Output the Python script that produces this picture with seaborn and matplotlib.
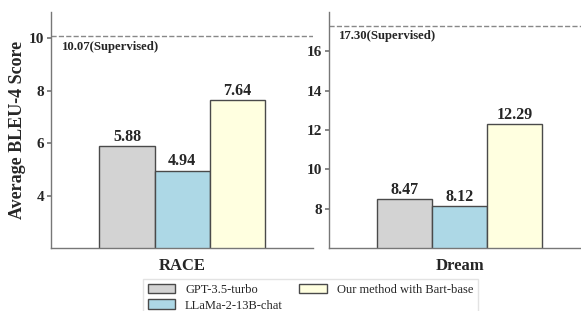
import matplotlib
matplotlib.use("Agg")
import matplotlib.pyplot as plt
import seaborn as sns
import pandas as pd
from matplotlib.patches import Patch
from matplotlib.transforms import blended_transform_factory, offset_copy

datasets = ["RACE", "Dream"]
models = ["GPT-3.5-turbo", "LLaMa-2-13B-chat", "Our method with Bart-base"]
race_scores = [5.88, 4.94, 7.64]
dream_scores = [8.47, 8.12, 12.29]
supervised = [10.07, 17.30]
ylims = [(2, 11), (6, 18)]
yticks = [[4, 6, 8, 10], [8, 10, 12, 14, 16]]
colors = ["#d3d3d3", "#add8e6", "#ffffe0"]

sns.set_theme(style="white")
plt.rcParams["font.family"] = ["Liberation Serif", "DejaVu Serif"]

fig = plt.figure(figsize=(5.81, 3.11), dpi=100)
axes = [fig.add_axes([0.0878, 0.2026, 0.451, 0.759]),
        fig.add_axes([0.566, 0.2026, 0.451, 0.759])]

edge = "#4a4a4a"
for i, (ax, ds, scores) in enumerate(zip(axes, datasets, [race_scores, dream_scores])):
    df = pd.DataFrame({"dataset": [ds] * 3, "model": models, "score": scores})
    sns.barplot(data=df, x="dataset", y="score", hue="model", palette=colors,
                hue_order=models, width=0.63, edgecolor=edge, linewidth=1.0,
                ax=ax, legend=False, saturation=1)
    for cont in ax.containers:
        ax.bar_label(cont, fmt="%.2f", fontsize=11.5, fontweight="bold", padding=1)
    ax.set_ylim(*ylims[i])
    ax.set_yticks(yticks[i])
    ax.axhline(supervised[i], color="#888888", linestyle="--", linewidth=1.0)
    tr = blended_transform_factory(ax.transAxes, ax.transData)
    tr = offset_copy(tr, fig=fig, x=0, y=-3, units="points")
    ax.text(0.04, supervised[i], f"{supervised[i]:.2f}(Supervised)", transform=tr,
            ha="left", va="top", fontsize=9.2, fontweight="bold")
    ax.set_xlabel("")
    ax.set_ylabel("")
    for s in ["top", "right"]:
        ax.spines[s].set_visible(False)
    for s in ["left", "bottom"]:
        ax.spines[s].set_color("#777777")
        ax.spines[s].set_linewidth(1.0)
    ax.tick_params(axis="y", left=True, length=3, color="#777777", pad=2,
                   labelsize=11)
    ax.tick_params(axis="x", bottom=False, labelsize=12, pad=1.5)
    for lab in ax.get_yticklabels() + ax.get_xticklabels():
        lab.set_fontweight("bold")

axes[0].set_ylabel("Average BLEU-4 Score", fontsize=13, fontweight="bold", labelpad=2)

handles = [Patch(facecolor=c, edgecolor=edge, linewidth=1.0) for c in colors]
fig.legend(handles, models, loc="lower center", bbox_to_anchor=(0.534, -0.038),
           ncol=2, fontsize=9, frameon=True, edgecolor="#dddddd", fancybox=False,
           handlelength=2.2, handleheight=0.8, columnspacing=1.3, borderpad=0.4,
           labelspacing=0.3)

fig.savefig("out.png", dpi=100)
